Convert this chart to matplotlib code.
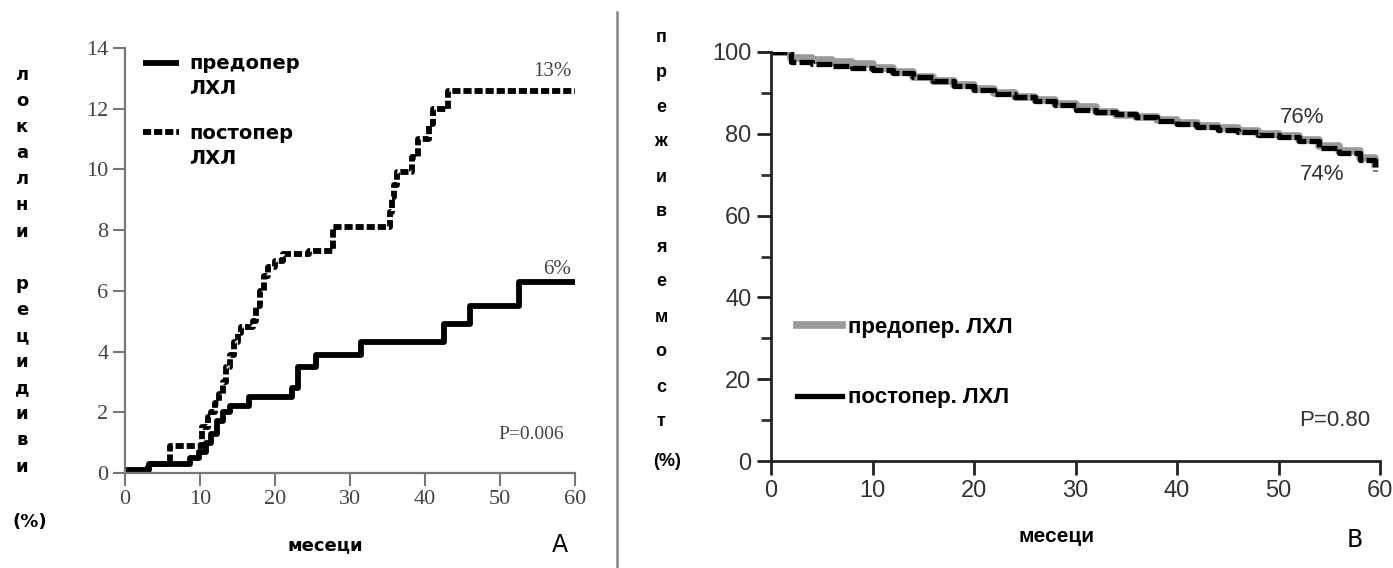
import matplotlib
matplotlib.use("Agg")
import matplotlib.pyplot as plt
from matplotlib.ticker import MultipleLocator

# panel A - local recurrences (%), Kaplan-Meier steps
pre_t = [0, 3.2, 5, 8.7, 9.8, 10.8, 11.5, 12.2, 13, 14, 16.5, 22.3, 23, 25.5, 31.5, 42.5, 46, 52.5, 60]
pre_v = [0.1, 0.3, 0.3, 0.5, 0.7, 1.0, 1.3, 1.7, 2.0, 2.2, 2.5, 2.8, 3.5, 3.9, 4.3, 4.9, 5.5, 6.3, 6.3]
post_t = [0, 3, 6, 9.5, 10.3, 11, 11.5, 12, 12.5, 13, 13.5, 14, 14.5, 15, 15.5, 17, 17.5, 18, 18.5,
          19, 20, 21, 24.5, 27.7, 35.3, 35.6, 35.9, 36.2, 38.2, 39, 40.5, 41, 43.1, 60]
post_v = [0, 0.3, 0.9, 0.9, 1.5, 1.85, 2.0, 2.3, 2.6, 3.0, 3.5, 3.9, 4.3, 4.6, 4.8, 5.0, 5.5, 6.0, 6.5,
          6.8, 7.0, 7.2, 7.3, 8.1, 8.6, 9.1, 9.5, 9.9, 10.4, 11.0, 11.5, 12.0, 12.6, 12.6]

# panel B - survival (%)
surv_t = [0, 2, 4, 6, 8, 10, 12, 14, 16, 18, 20, 22, 24, 26, 28, 30,
          32, 34, 36, 38, 40, 42, 44, 46, 48, 50, 52, 54, 56, 58, 59.5]
surv_pre = [100, 98.6, 98.0, 97.5, 97.0, 96.0, 95.0, 94.0, 93.0, 92.0, 91.0, 90.0, 89.0, 88.2, 87.4, 86.5,
            85.4, 84.6, 84.0, 83.3, 82.6, 82.0, 81.3, 80.6, 80.0, 79.4, 78.5, 77.0, 75.8, 74.2, 72.5]
surv_post = [100, 97.6, 97.0, 96.6, 96.2, 95.5, 94.8, 93.9, 92.9, 91.8, 90.8, 89.8, 88.9, 88.0, 87.0, 85.8,
             85.3, 84.8, 84.2, 83.2, 82.3, 81.6, 81.0, 80.4, 79.8, 79.2, 78.2, 76.5, 75.2, 73.6, 71.0]

left_letters = list("локални") + [""] + list("рецидиви")
right_letters = list("преживяемост")

W, H = 1393, 568
fig = plt.figure(figsize=(W / 100, H / 100), dpi=100)


def fx(px):
    return px / W


def fy(py):
    return 1 - py / H


num_font = ["Liberation Sans", "DejaVu Sans"]
serif = ["Liberation Serif", "DejaVu Serif"]
lab_font = ["DejaVu Sans"]

# ---------- panel A ----------
ax1 = fig.add_axes([fx(125), fy(473), fx(575) - fx(125), fy(48) - fy(473)])
ax1.step(pre_t, pre_v, where="post", color="black", lw=4.2, solid_capstyle="butt",
         label="предопер")
ax1.step(post_t, post_v, where="post", color="black", lw=4.2, dashes=(1.4, 0.5),
         label="постопер")
ax1.set_xlim(0, 60)
ax1.set_ylim(0, 14)
ax1.xaxis.set_major_locator(MultipleLocator(10))
ax1.yaxis.set_major_locator(MultipleLocator(2))
for s in ["top", "right"]:
    ax1.spines[s].set_visible(False)
for s in ["left", "bottom"]:
    ax1.spines[s].set_color("#777777")
    ax1.spines[s].set_linewidth(1.6)
ax1.tick_params(colors="#777777", width=1.5, length=9, labelsize=16, pad=3)
for lab in ax1.get_xticklabels() + ax1.get_yticklabels():
    lab.set_family(serif)
    lab.set_color("#444444")
leg = ax1.legend(loc="upper left", bbox_to_anchor=(0.0, 1.026), frameon=False,
                 handlelength=1.9, handletextpad=0.5, labelspacing=2.6,
                 prop={"family": lab_font, "weight": "bold", "size": 14})
# second line of each legend label
for t in leg.get_texts():
    ax1.annotate("ЛХЛ", xy=(0, 0), xycoords=t, xytext=(0, -4), textcoords="offset points",
                 ha="left", va="top", fontsize=14, weight="bold", family=lab_font, zorder=6)
ax1.text(59.5, 12.9, "13%", ha="right", va="bottom", fontsize=15, color="#444444",
         family=serif)
ax1.text(59.5, 6.4, "6%", ha="right", va="bottom", fontsize=15, color="#444444",
         family=serif)
ax1.text(58.5, 1.28, "P=0.006", ha="right", va="center", fontsize=14, color="#444444",
         family=serif)

fig.text(fx(325), fy(545), "месеци", ha="center", va="center", fontsize=13,
         weight="bold", family=lab_font)
fig.text(fx(560), fy(545), "A", ha="center", va="center", fontsize=17, family=lab_font)
for i, ch in enumerate(left_letters):
    fig.text(fx(22), fy(75 + i * 26.1), ch, ha="center", va="center", fontsize=13,
             weight="bold", family=lab_font)
fig.text(fx(30), fy(522), "(%)", ha="center", va="center", fontsize=13,
         weight="bold", family=lab_font)

# divider
fig.add_artist(plt.Line2D([fx(617), fx(617)], [fy(12), 0], color="#888888", lw=1.8))

# ---------- panel B ----------
ax2 = fig.add_axes([fx(771), fy(461), fx(1380) - fx(771), fy(52) - fy(461)])
ax2.step(surv_t, surv_pre, where="post", color="#9a9a9a", lw=5.5, label="предопер. ЛХЛ")
ax2.step(surv_t, surv_post, where="post", color="black", lw=3.8, dashes=(3, 0.6),
         label="постопер. ЛХЛ")
ax2.set_xlim(0, 60)
ax2.set_ylim(0, 100)
ax2.xaxis.set_major_locator(MultipleLocator(10))
ax2.yaxis.set_major_locator(MultipleLocator(20))
ax2.yaxis.set_minor_locator(MultipleLocator(10))
for s in ["top", "right"]:
    ax2.spines[s].set_visible(False)
for s in ["left", "bottom"]:
    ax2.spines[s].set_linewidth(2)
    ax2.spines[s].set_color("#222222")
ax2.tick_params(which="major", width=2, length=10, labelsize=17, pad=4, colors="#222222")
ax2.tick_params(which="minor", width=2, length=7, colors="#333333")
for lab in ax2.get_xticklabels() + ax2.get_yticklabels():
    lab.set_family(num_font)
    lab.set_color("#333333")
leg2 = ax2.legend(loc="lower left", bbox_to_anchor=(0.01, 0.08), frameon=False,
                  handlelength=2.0, handletextpad=0.3, labelspacing=2.24,
                  prop={"family": num_font, "size": 16, "weight": "bold"})
leg2.get_lines()[1].set_linestyle("-")
ax2.text(52.3, 84, "76%", ha="center", va="center", fontsize=16, color="#333333",
         family=num_font)
ax2.text(54.3, 70, "74%", ha="center", va="center", fontsize=16, color="#333333",
         family=num_font)
ax2.text(59, 10, "P=0.80", ha="right", va="center", fontsize=16, color="#333333",
         family=num_font)

fig.text(fx(1057), fy(537), "месеци", ha="center", va="center", fontsize=15,
         weight="bold", family=num_font)
fig.text(fx(1355), fy(540), "B", ha="center", va="center", fontsize=17, family=lab_font)
for i, ch in enumerate(right_letters):
    fig.text(fx(661), fy(37 + i * 35), ch, ha="center", va="center", fontsize=13,
             weight="bold", family=num_font)
fig.text(fx(667), fy(462), "(%)", ha="center", va="center", fontsize=13,
         weight="bold", family=num_font)

fig.savefig("out.png", dpi=100)
